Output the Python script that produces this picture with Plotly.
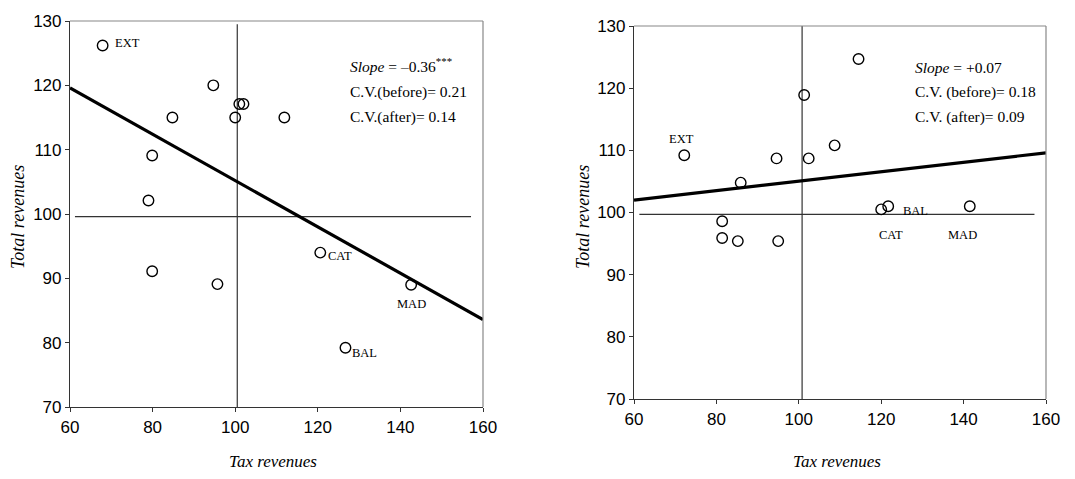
import plotly.graph_objects as go

# ---------------- data ----------------
left_x = [67.9, 94.7, 84.8, 100.0, 101.0, 102.0, 111.9, 79.9, 79.0, 79.9, 95.7, 120.6, 142.6, 126.7]
left_y = [126.2, 120.0, 115.0, 115.0, 117.1, 117.1, 115.0, 109.1, 102.1, 91.1, 89.1, 94.0, 89.0, 79.2]
left_fit_x = [60, 160]
left_fit_y = [119.6, 83.6]
left_hline_x = [61.2, 157.1]
left_hline_y = [99.6, 99.6]
left_vline_x = [100.5, 100.5]
left_vline_y = [129.5, 70]
left_lbl_text = ["EXT", "CAT", "MAD", "BAL"]
left_lbl_x = [70.5, 122.0, 142.6, 127.7]
left_lbl_y = [126.6, 93.4, 86.0, 78.4]
left_lbl_anchor = ["left", "left", "center", "left"]

right_x = [114.5, 101.3, 108.7, 72.2, 94.6, 102.4, 85.9, 120.0, 121.7, 141.5, 81.4, 81.4, 85.2, 95.0]
right_y = [124.7, 118.9, 110.8, 109.2, 108.7, 108.7, 104.8, 100.5, 101.0, 101.0, 98.6, 95.9, 95.4, 95.4]
right_fit_x = [60, 160]
right_fit_y = [102.0, 109.6]
right_hline_x = [61.3, 157.2]
right_hline_y = [99.7, 99.7]
right_vline_x = [100.8, 100.8]
right_vline_y = [130.3, 70]
right_lbl_text = ["EXT", "BAL", "CAT", "MAD"]
right_lbl_x = [71.5, 124.9, 122.3, 139.8]
right_lbl_y = [111.9, 100.3, 96.4, 96.4]
right_lbl_anchor = ["center", "left", "center", "center"]

left_note = ["<i>Slope</i> = \u20130.36<sup>***</sup>", "C.V.(before)= 0.21", "C.V.(after)= 0.14"]
right_note = ["<i>Slope</i> = +0.07", "C.V. (before)= 0.18", "C.V. (after)= 0.09"]

x_ticks = [60, 80, 100, 120, 140, 160]
y_ticks = [70, 80, 90, 100, 110, 120, 130]
x_title = "Tax revenues"
y_title = "Total revenues"

SERIF = "Liberation Serif, Times New Roman, serif"
SANS = "Liberation Sans, Arial, sans-serif"

# page body has an 8px margin; figure is sized to fit inside it
OFF = 8
W = 1075 - 2 * OFF
H = 479 - 2 * OFF


def fx(px):
    return (px - OFF) / W


def fy(py):
    return 1 - (py - OFF) / H


fig = go.Figure()

panels = [
    dict(xa="x", ya="y", px=left_x, py=left_y, fx=left_fit_x, fy=left_fit_y,
         hx=left_hline_x, hy=left_hline_y, vx=left_vline_x, vy=left_vline_y,
         lt=left_lbl_text, lx=left_lbl_x, ly=left_lbl_y, la=left_lbl_anchor, note=left_note),
    dict(xa="x2", ya="y2", px=right_x, py=right_y, fx=right_fit_x, fy=right_fit_y,
         hx=right_hline_x, hy=right_hline_y, vx=right_vline_x, vy=right_vline_y,
         lt=right_lbl_text, lx=right_lbl_x, ly=right_lbl_y, la=right_lbl_anchor, note=right_note),
]

for p in panels:
    fig.add_trace(go.Scatter(x=p["hx"], y=p["hy"], mode="lines", xaxis=p["xa"], yaxis=p["ya"],
                             line=dict(color="#333333", width=1.2), showlegend=False, hoverinfo="skip"))
    fig.add_trace(go.Scatter(x=p["vx"], y=p["vy"], mode="lines", xaxis=p["xa"], yaxis=p["ya"],
                             line=dict(color="#333333", width=1.2), showlegend=False, hoverinfo="skip"))
    fig.add_trace(go.Scatter(x=p["fx"], y=p["fy"], mode="lines", xaxis=p["xa"], yaxis=p["ya"],
                             line=dict(color="black", width=3.2), showlegend=False, hoverinfo="skip"))
    fig.add_trace(go.Scatter(x=p["px"], y=p["py"], mode="markers", xaxis=p["xa"], yaxis=p["ya"],
                             marker=dict(symbol="circle-open", size=10.5, color="black", line=dict(width=1.4)),
                             showlegend=False))
    for t, x, y, a in zip(p["lt"], p["lx"], p["ly"], p["la"]):
        fig.add_annotation(x=x, y=y, xref=p["xa"], yref=p["ya"], text=t, showarrow=False,
                           xanchor=a, yanchor="middle", font=dict(family=SERIF, size=12.5, color="black"))

# stats notes
note_pos = [(348, [65, 92, 117]), (913, [68, 92, 117])]
for (nx, ys), p in zip(note_pos, panels):
    for line, ny in zip(p["note"], ys):
        fig.add_annotation(x=fx(nx), y=fy(ny), xref="paper", yref="paper", text=line,
                           showarrow=False, xanchor="left", yanchor="middle",
                           font=dict(family=SERIF, size=15.5, color="black"))

# axis titles
for tx, ty in [(273, 461), (837, 461)]:
    fig.add_annotation(x=fx(tx), y=fy(ty), xref="paper", yref="paper", text=x_title, showarrow=False,
                       xanchor="center", yanchor="middle",
                       font=dict(family=SERIF, size=17, color="black", style="italic"))
for tx, ty in [(18, 217), (583, 217)]:
    fig.add_annotation(x=fx(tx), y=fy(ty), xref="paper", yref="paper", text=y_title, showarrow=False,
                       xanchor="center", yanchor="middle", textangle=-90,
                       font=dict(family=SERIF, size=18, color="black", style="italic"))


def xaxis_def(domain, anchor):
    return dict(domain=domain, anchor=anchor, range=[60, 160], tickvals=x_ticks, ticks="outside",
                ticklen=4, tickwidth=1, tickcolor="#333333", showline=True, linecolor="#333333",
                linewidth=1.2, showgrid=False, zeroline=False, automargin=False,
                tickfont=dict(family=SANS, size=17, color="black"))


def yaxis_def(domain, anchor):
    return dict(domain=domain, anchor=anchor, range=[70, 130], tickvals=y_ticks, ticks="outside",
                ticklen=4, tickwidth=1, tickcolor="#333333", showline=True, linecolor="#333333",
                linewidth=1.2, showgrid=False, zeroline=False, automargin=False,
                tickfont=dict(family=SANS, size=17, color="black"))


fig.update_layout(
    width=W, height=H, margin=dict(l=0, r=0, t=0, b=0),
    paper_bgcolor="white", plot_bgcolor="white",
    xaxis=xaxis_def([fx(70), fx(483)], "y"),
    yaxis=yaxis_def([fy(407), fy(21)], "x"),
    xaxis2=xaxis_def([fx(634), fx(1046)], "y2"),
    yaxis2=yaxis_def([fy(399), fy(26)], "x2"),
)

# grey top and right frame lines
for xa, ya in [("x", "y"), ("x2", "y2")]:
    fig.add_shape(type="line", xref=f"{xa} domain", yref=f"{ya} domain", x0=0, x1=1, y0=1, y1=1,
                  line=dict(color="#888888", width=1.2))
    fig.add_shape(type="line", xref=f"{xa} domain", yref=f"{ya} domain", x0=1, x1=1, y0=0, y1=1,
                  line=dict(color="#888888", width=1.2))

fig.write_html("out.html")
